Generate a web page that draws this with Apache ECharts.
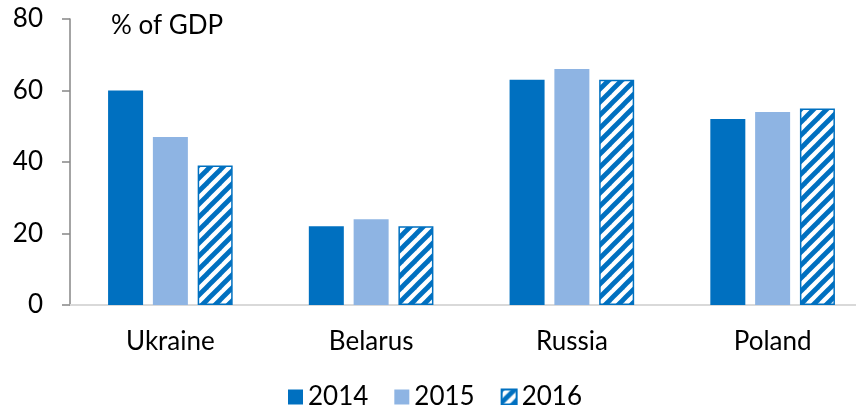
<!DOCTYPE html>
<html>
<head>
<meta charset="utf-8">
<script src="https://cdn.jsdelivr.net/npm/echarts@6/dist/echarts.min.js"></script>
<style>
html,body{margin:0;padding:0;background:#fff;}
#chart{width:856px;height:405px;}
</style>
</head>
<body>
<div id="chart"></div>
<script>
const categories = ['Ukraine', 'Belarus', 'Russia', 'Poland'];
const seriesNames = ['2014', '2015', '2016'];
const values2014 = [60, 22, 63, 52];
const values2015 = [47, 24, 66, 54];
const values2016 = [39, 22, 63, 55];
const yTicks = [0, 20, 40, 60, 80];
const unitLabel = '% of GDP';

function makeHatch() {
  const c = document.createElement('canvas');
  c.width = 13; c.height = 13;
  const ctx = c.getContext('2d');
  ctx.fillStyle = '#ffffff';
  ctx.fillRect(0, 0, 13, 13);
  ctx.strokeStyle = '#0070C0';
  ctx.lineWidth = 4.8;
  for (let x = -13; x <= 13; x += 13) {
    ctx.beginPath();
    ctx.moveTo(x - 2, 15);
    ctx.lineTo(x + 15, -2);
    ctx.stroke();
  }
  return c;
}
const hatch = makeHatch();
const FONT = 'Lato';

const chart = echarts.init(document.getElementById('chart'), null, {renderer: 'canvas'});
chart.setOption({
  animation: false,
  backgroundColor: '#ffffff',
  textStyle: {fontFamily: FONT},
  grid: {left: 70, top: 19, width: 803, height: 286, containLabel: false, outerBoundsMode: 'none'},
  graphic: [{
    type: 'text', left: 111, top: 13,
    style: {text: unitLabel, font: '26px ' + FONT, fill: '#000'}
  }],
  legend: {
    data: seriesNames,
    left: 283, top: 379,
    itemWidth: 15, itemHeight: 15, itemGap: 26,
    textStyle: {fontSize: 26, color: '#000', fontFamily: FONT},
    icon: 'rect'
  },
  xAxis: {
    type: 'category',
    data: categories,
    axisLine: {lineStyle: {color: '#D9D9D9', width: 2}},
    axisTick: {show: false},
    axisLabel: {fontSize: 26, color: '#000', margin: 24, fontFamily: FONT}
  },
  yAxis: {
    type: 'value',
    min: yTicks[0], max: yTicks[yTicks.length - 1], interval: 20,
    splitLine: {show: false},
    axisLine: {show: true, lineStyle: {color: '#868686', width: 1.5}},
    axisTick: {show: true, length: 8, lineStyle: {color: '#868686', width: 1.5}},
    axisLabel: {fontSize: 26, color: '#000', margin: 27, fontFamily: FONT}
  },
  series: [
    {name: seriesNames[0], type: 'bar', data: values2014, barWidth: 35, barGap: '28%',
     itemStyle: {color: '#0070C0'}},
    {name: seriesNames[1], type: 'bar', data: values2015, barWidth: 35, barGap: '28%',
     itemStyle: {color: '#8EB4E3'}},
    {name: seriesNames[2], type: 'bar', data: values2016, barWidth: 35, barGap: '28%',
     itemStyle: {color: {image: hatch, repeat: 'repeat'}, borderColor: '#0070C0', borderWidth: 1.5}}
  ]
});
</script>
</body>
</html>
